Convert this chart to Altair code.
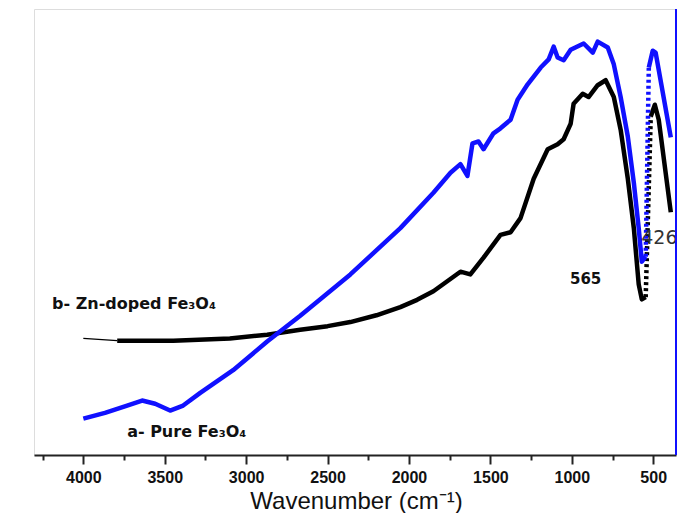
import altair as alt
import pandas as pd

# ---- data (wavenumber, % transmittance in arbitrary units) ----
# a- Pure Fe3O4 (blue)
pure_main_wn = [4000, 3867, 3731, 3639, 3559, 3467, 3387, 3282, 3080, 2871, 2668, 2360, 2053,
                1850, 1745, 1684, 1641, 1610, 1573, 1542, 1481, 1438, 1376, 1333, 1271, 1191,
                1142, 1111, 1087, 1050, 1007, 927, 871, 841, 779, 742, 700, 656, 619, 589, 570, 546]
pure_main_T = [8.0, 9.3, 10.9, 12.0, 11.3, 9.8, 10.9, 13.7, 18.7, 25.0, 30.7, 39.8, 50.0,
               57.8, 62.2, 64.1, 61.5, 68.7, 69.1, 67.4, 70.9, 72.0, 73.9, 78.3, 81.7, 85.4,
               87.2, 90.0, 87.6, 87.0, 89.3, 90.7, 88.7, 91.1, 89.8, 86.1, 78.9, 70.2, 60.0, 50.0, 42.6, 43.7]
pure_rise_wn = [546, 527]
pure_rise_T = [43.7, 85.4]
pure_tail_wn = [527, 503, 485, 392]
pure_tail_T = [85.4, 89.1, 88.7, 70.0]

# b- Zn-doped Fe3O4 (black)
zn_thin_wn = [4000, 3792]
zn_thin_T = [25.7, 25.2]
zn_main_wn = [3792, 3447, 3100, 2871, 2668, 2500, 2360, 2200, 2053, 1950, 1850, 1684, 1623, 1542, 1438,
              1376, 1315, 1234, 1148, 1087, 1050, 1007, 989, 933, 897, 841, 792, 742, 700, 656, 619,
              589, 570, 546]
zn_main_T = [25.2, 25.2, 25.7, 26.5, 27.6, 28.4, 29.3, 30.8, 32.6, 34.2, 36.1, 40.4, 39.8, 43.5, 48.5,
             49.1, 52.2, 60.9, 67.4, 68.5, 69.6, 73.0, 77.4, 79.6, 78.9, 81.5, 82.6, 78.9, 71.7, 60.9, 50.0,
             37.6, 34.3, 34.8]
zn_rise_wn = [546, 515]
zn_rise_T = [34.8, 74.6]
zn_tail_wn = [515, 490, 466, 392]
zn_tail_T = [74.6, 77.2, 73.9, 53.5]

major_ticks = [4000, 3500, 3000, 2500, 2000, 1500, 1000, 500]
minor_ticks = [4250, 3750, 3250, 2750, 2250, 1750, 1250, 750]

ann_text = ["b- Zn-doped Fe\u2083O\u2084", "a- Pure Fe\u2083O\u2084", "565", "426"]
ann_wn = [4192, 3731, 915, 462]
ann_T = [33.3, 5.0, 38.7, 47.8]


def frame(wn, T):
    return pd.DataFrame({"wn": wn, "T": T, "i": list(range(len(wn)))})


W, H = 642, 446
xscale = alt.Scale(domain=[360, 4303], reverse=True, nice=False, zero=False)
yscale = alt.Scale(domain=[0, 98.3], nice=False, zero=False)

BLUE = "#1010ff"
BLACK = "#000000"


def line(df, color, width, dash=None):
    kw = dict(color=color, strokeWidth=width, strokeJoin="round", strokeCap="butt")
    if dash:
        kw["strokeDash"] = dash
    return alt.Chart(df).mark_line(**kw).encode(
        x=alt.X("wn:Q", scale=xscale, axis=None),
        y=alt.Y("T:Q", scale=yscale, axis=None),
        order="i:Q",
    )


pure_all = frame(pure_main_wn, pure_main_T)

axis_layer = alt.Chart(pure_all).mark_point(opacity=0).encode(
    x=alt.X("wn:Q", scale=xscale, axis=alt.Axis(
        values=major_ticks, format="d", orient="bottom", title="Wavenumber (cm\u207b\u00b9)",
        tickSize=9, tickWidth=2, tickColor="#222", domainColor="#222", domainWidth=2,
        labelFont="Liberation Sans", labelFontSize=16, labelFontWeight="bold", labelColor="#111",
        labelPadding=5, labelFlush=False, grid=False,
        titleFont="Liberation Sans", titleFontSize=24, titleFontWeight="normal", titleColor="#111",
        titleBaseline="alphabetic", titleX=322, titleY=53)),
    y=alt.Y("T:Q", scale=yscale, axis=alt.Axis(
        title="% transmittance", ticks=False, labels=False, domain=False, grid=False,
        titleFont="Liberation Sans", titleFontSize=22, titleFontWeight="bold", titleColor="#111",
        titleX=-11.5, titleY=217, titleAngle=270, titleBaseline="middle", titleAlign="center")),
)

minor_layer = alt.Chart(pure_all).mark_point(opacity=0).encode(
    x=alt.X("wn:Q", scale=xscale, axis=alt.Axis(
        values=minor_ticks, orient="bottom", labels=False, domain=False, tickSize=5,
        tickWidth=2, tickColor="#222", title=None, grid=False)),
    y=alt.Y("T:Q", scale=yscale, axis=None),
)

zn_thin = line(frame(zn_thin_wn, zn_thin_T), BLACK, 1.3)
zn_main = line(frame(zn_main_wn, zn_main_T), BLACK, 4.5)
zn_rise = line(frame(zn_rise_wn, zn_rise_T), BLACK, 4.5, [3, 3])
zn_tail = line(frame(zn_tail_wn, zn_tail_T), BLACK, 4.5)

pure_main = line(pure_all, BLUE, 4.5)
pure_rise = line(frame(pure_rise_wn, pure_rise_T), BLUE, 4.5, [3, 3])
pure_tail = line(frame(pure_tail_wn, pure_tail_T), BLUE, 4.5)

ann = pd.DataFrame({"text": ann_text, "wn": ann_wn, "T": ann_T, "k": [0, 1, 2, 3]})


def label(k, **style):
    return alt.Chart(ann).transform_filter(alt.datum.k == k).mark_text(baseline="middle", **style).encode(
        x=alt.X("wn:Q", scale=xscale, axis=None),
        y=alt.Y("T:Q", scale=yscale, axis=None),
        text="text:N",
    )


lab_b = label(0, align="left", font="DejaVu Sans", fontSize=16, fontWeight="bold", color="#111")
lab_a = label(1, align="left", font="DejaVu Sans", fontSize=16, fontWeight="bold", color="#111")
lab_565 = label(2, align="center", font="DejaVu Sans", fontSize=15, fontWeight="bold", color="#111")
lab_426 = label(3, align="center", font="DejaVu Sans", fontSize=19, fontWeight="normal", color="#333")

border = alt.Chart(pd.DataFrame({"a": [0]})).mark_rule(color=BLUE, strokeWidth=2).encode(
    x=alt.value(W), y=alt.value(0), y2=alt.value(H))

chart = alt.layer(
    axis_layer, minor_layer,
    zn_thin, zn_main, zn_rise, zn_tail,
    pure_main, pure_rise, pure_tail,
    lab_b, lab_a, lab_565, lab_426,
    border,
).resolve_axis(x="independent").properties(
    width=W, height=H,
    autosize=alt.AutoSizeParams(type="none"),
    padding={"left": 26, "top": 1, "right": 1, "bottom": 58},
).configure_view(stroke="#222", strokeWidth=2).configure(background="white")

chart.save("out.html", embed_options={"renderer": "svg", "actions": False})
